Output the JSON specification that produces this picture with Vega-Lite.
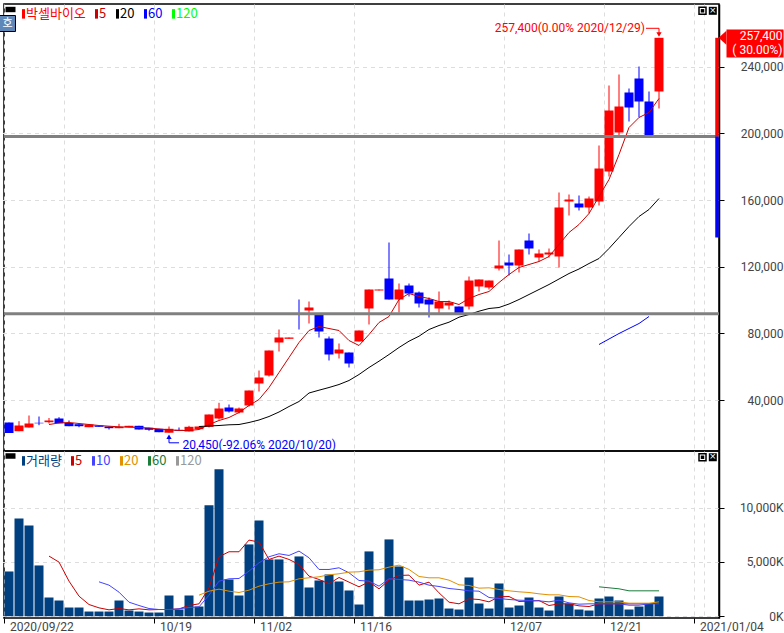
{
"$schema":"https://vega.github.io/schema/vega-lite/v6.json",
"background":"#ffffff",
"padding":{"left":-4,"top":3,"right":0,"bottom":0},
"spacing":0,
"bounds":"flush",
"resolve":{"scale":{"color":"independent"},"legend":{"color":"independent"}},
"config":{"view":{"stroke":"#000000","strokeWidth":1.5},"font":"Roboto"},
"datasets":{
"price":[
{"date":"2020/09/22","open":26580,"high":26580,"low":20280,"close":20280},
{"date":"2020/09/23","open":21360,"high":27360,"low":21360,"close":24780},
{"date":"2020/09/24","open":23580,"high":30780,"low":23580,"close":25980},
{"date":"2020/09/25","open":26400,"high":30180,"low":24960,"close":26100},
{"date":"2020/09/28","open":26760,"high":29280,"low":25980,"close":27780,"5":25380},
{"date":"2020/09/29","open":28980,"high":29760,"low":26160,"close":26160,"5":26280},
{"date":"2020/10/05","open":26280,"high":27780,"low":24360,"close":24360,"5":26580},
{"date":"2020/10/06","open":25560,"high":25560,"low":23760,"close":24360,"5":25980},
{"date":"2020/10/07","open":23760,"high":25380,"low":23760,"close":25380,"5":25380},
{"date":"2020/10/08","open":24780,"high":24780,"low":24000,"close":24000,"5":24780},
{"date":"2020/10/12","open":24180,"high":24180,"low":22380,"close":23160,"5":24360},
{"date":"2020/10/13","open":23160,"high":25800,"low":23160,"close":24000,"5":24000},
{"date":"2020/10/14","open":23760,"high":24600,"low":23760,"close":24600,"5":23760},
{"date":"2020/10/15","open":24600,"high":24600,"low":22380,"close":22380,"5":23580},
{"date":"2020/10/16","open":23400,"high":23400,"low":21600,"close":22200,"5":23280},
{"date":"2020/10/19","open":22800,"high":22800,"low":20760,"close":20760,"5":22680},
{"date":"2020/10/20","open":20450,"high":24180,"low":20450,"close":22800,"5":22200},
{"date":"2020/10/21","open":22200,"high":23580,"low":21600,"close":21600,"5":21780},
{"date":"2020/10/22","open":21180,"high":24600,"low":21180,"close":24000,"5":21780},
{"date":"2020/10/23","open":22560,"high":24180,"low":22560,"close":24180,"5":22380,"20":24180},
{"date":"2020/10/26","open":24000,"high":31380,"low":23580,"close":31380,"5":25380,"20":24480},
{"date":"2020/10/27","open":28980,"high":38400,"low":28380,"close":34980,"5":27780,"20":24780},
{"date":"2020/10/28","open":35580,"high":37380,"low":32580,"close":33180,"5":29580,"20":25200},
{"date":"2020/10/29","open":32580,"high":35580,"low":31980,"close":34980,"5":32580,"20":25380},
{"date":"2020/10/30","open":36780,"high":45780,"low":36180,"close":45780,"5":36780,"20":26580},
{"date":"2020/11/02","open":49980,"high":57780,"low":45180,"close":53580,"5":40380,"20":28080},
{"date":"2020/11/03","open":54780,"high":69780,"low":54180,"close":69780,"5":47580,"20":30180},
{"date":"2020/11/04","open":74580,"high":82380,"low":69180,"close":77580,"5":56580,"20":32880},
{"date":"2020/11/05","open":76800,"high":77580,"low":76800,"close":77580,"5":65580,"20":36180},
{"date":"2020/11/06","open":92000,"high":100380,"low":82380,"close":91380,"5":74580,"20":39180},
{"date":"2020/11/09","open":93780,"high":99180,"low":85980,"close":95580,"5":81780,"20":44280},
{"date":"2020/11/10","open":92000,"high":92000,"low":77580,"close":81180,"5":84180,"20":45960},
{"date":"2020/11/11","open":76980,"high":78180,"low":63780,"close":67380,"5":82980,"20":47580},
{"date":"2020/11/12","open":67980,"high":73980,"low":64980,"close":70380,"5":81780,"20":49380},
{"date":"2020/11/13","open":68580,"high":68580,"low":59580,"close":61980,"5":75780,"20":51780},
{"date":"2020/11/16","open":75180,"high":81780,"low":75180,"close":81780,"5":72780,"20":55380},
{"date":"2020/11/17","open":94980,"high":106380,"low":85380,"close":106380,"5":79380,"20":59580},
{"date":"2020/11/18","open":105780,"high":106380,"low":105780,"close":106380,"5":86580,"20":63360},
{"date":"2020/11/19","open":112980,"high":134580,"low":100380,"close":100380,"5":90180,"20":67380},
{"date":"2020/11/20","open":100380,"high":109980,"low":92580,"close":106380,"5":100380,"20":71580},
{"date":"2020/11/23","open":108780,"high":109980,"low":102180,"close":103980,"5":103980,"20":75360},
{"date":"2020/11/24","open":104580,"high":105180,"low":95580,"close":97980,"5":102180,"20":78360},
{"date":"2020/11/25","open":100380,"high":101580,"low":89580,"close":97380,"5":100980,"20":82380},
{"date":"2020/11/26","open":94980,"high":105180,"low":91980,"close":99180,"5":99180,"20":84780},
{"date":"2020/11/27","open":96780,"high":99780,"low":94380,"close":98580,"5":99180,"20":86760},
{"date":"2020/11/30","open":96180,"high":96180,"low":92000,"close":92280,"5":97380,"20":89760},
{"date":"2020/12/01","open":96180,"high":114180,"low":94380,"close":111780,"5":100980,"20":91380},
{"date":"2020/12/02","open":108180,"high":112380,"low":105180,"close":112380,"5":103380,"20":93360},
{"date":"2020/12/03","open":107580,"high":111780,"low":106380,"close":111780,"5":105180,"20":94980},
{"date":"2020/12/04","open":118980,"high":135780,"low":117780,"close":120780,"5":110580,"20":95580},
{"date":"2020/12/07","open":122580,"high":127380,"low":114780,"close":120780,"5":115380,"20":97680},
{"date":"2020/12/08","open":120780,"high":130380,"low":116580,"close":130380,"5":119580,"20":100380},
{"date":"2020/12/09","open":135780,"high":139980,"low":127380,"close":130980,"5":121380,"20":103380},
{"date":"2020/12/10","open":125580,"high":130380,"low":123180,"close":127980,"5":123180,"20":106380},
{"date":"2020/12/11","open":127380,"high":130980,"low":125580,"close":128580,"5":126180,"20":109380},
{"date":"2020/12/14","open":126180,"high":164580,"low":119580,"close":155580,"5":133380,"20":112680},
{"date":"2020/12/15","open":159180,"high":163380,"low":150780,"close":160380,"5":140580,"20":115980},
{"date":"2020/12/16","open":157980,"high":162780,"low":153780,"close":155580,"5":145380,"20":118680},
{"date":"2020/12/17","open":155580,"high":162180,"low":151980,"close":160980,"5":151980,"20":121980},
{"date":"2020/12/18","open":159180,"high":192780,"low":156780,"close":178980,"5":162180,"20":124980,"60":73380},
{"date":"2020/12/21","open":177180,"high":228780,"low":174180,"close":213780,"5":172380,"20":130980,"60":76680},
{"date":"2020/12/22","open":200580,"high":235380,"low":198180,"close":216180,"5":187380,"20":137580,"60":79980},
{"date":"2020/12/23","open":224580,"high":226980,"low":207180,"close":215580,"5":203580,"20":144180,"60":82980},
{"date":"2020/12/24","open":232980,"high":240180,"low":209580,"close":219180,"5":209580,"20":150180,"60":85980},
{"date":"2020/12/28","open":219180,"high":225180,"low":198000,"close":198180,"5":212580,"20":154380,"60":90180},
{"date":"2020/12/29","open":225180,"high":257400,"low":214980,"close":257400,"5":220980,"20":160980}
],
"vol":[
{"date":"2020/09/22","volume":4120},{"date":"2020/09/23","volume":9010},{"date":"2020/09/24","volume":8364},{"date":"2020/09/25","volume":4674},
{"date":"2020/09/28","volume":1722,"5":5535},{"date":"2020/09/29","volume":1445,"5":4981},{"date":"2020/10/05","volume":800,"5":3229},{"date":"2020/10/06","volume":800,"5":1845},{"date":"2020/10/07","volume":430,"5":1076},
{"date":"2020/10/08","volume":430,"5":769,"10":3167},{"date":"2020/10/12","volume":430,"5":584,"10":2860},{"date":"2020/10/13","volume":1445,"5":707,"10":2214},{"date":"2020/10/14","volume":523,"5":584,"10":1291},{"date":"2020/10/15","volume":430,"5":676,"10":984},
{"date":"2020/10/16","volume":338,"5":584,"10":707},{"date":"2020/10/19","volume":338,"5":615,"10":615},{"date":"2020/10/20","volume":1906,"5":615,"10":615},{"date":"2020/10/21","volume":615,"5":676,"10":676},{"date":"2020/10/22","volume":1906,"5":984,"10":800},
{"date":"2020/10/23","volume":892,"5":1138,"10":861,"20":1937},{"date":"2020/10/26","volume":10209,"5":2614,"10":1937,"20":2306},{"date":"2020/10/27","volume":13530,"5":5474,"10":3229,"20":2491},{"date":"2020/10/28","volume":3382,"5":5935,"10":3444,"20":2306},{"date":"2020/10/29","volume":1906,"5":5935,"10":3475,"20":2183},
{"date":"2020/10/30","volume":6611,"5":7011,"10":4151,"20":2398},{"date":"2020/11/02","volume":8825,"5":6826,"10":4920,"20":2767},{"date":"2020/11/03","volume":5228,"5":5228,"10":5474,"20":2983},{"date":"2020/11/04","volume":5228,"5":5535,"10":5750,"20":3136},{"date":"2020/11/05","volume":0,"5":5228,"10":5596,"20":3167},
{"date":"2020/11/06","volume":5504,"5":4766,"10":5996,"20":3444},{"date":"2020/11/09","volume":2644,"5":3690,"10":5381,"20":3536},{"date":"2020/11/10","volume":3290,"5":3382,"10":4305,"20":3628},{"date":"2020/11/11","volume":3844,"5":2983,"10":4305,"20":3813},{"date":"2020/11/12","volume":3198,"5":3567,"10":4459,"20":3905},
{"date":"2020/11/13","volume":2368,"5":3136,"10":3998,"20":4059},{"date":"2020/11/16","volume":1076,"5":2706,"10":3290,"20":4090},{"date":"2020/11/17","volume":5966,"5":3167,"10":3229,"20":4243},{"date":"2020/11/18","volume":0,"5":2521,"10":2768,"20":4274},{"date":"2020/11/19","volume":7072,"5":3321,"10":3444,"20":4520},
{"date":"2020/11/20","volume":4582,"5":3751,"10":3382,"20":4705},{"date":"2020/11/23","volume":1445,"5":3782,"10":3321,"20":4305},{"date":"2020/11/24","volume":1445,"5":2860,"10":3136,"20":3659},{"date":"2020/11/25","volume":1537,"5":3136,"10":2860,"20":3536},{"date":"2020/11/26","volume":1630,"5":2152,"10":2737,"20":3536},
{"date":"2020/11/27","volume":707,"5":1291,"10":2552,"20":3321},{"date":"2020/11/30","volume":615,"5":1138,"10":2460,"20":2890},{"date":"2020/12/01","volume":3567,"5":1599,"10":2337,"20":2829},{"date":"2020/12/02","volume":1168,"5":1537,"10":2306,"20":2583},{"date":"2020/12/03","volume":707,"5":1322,"10":1722,"20":2614},
{"date":"2020/12/04","volume":3013,"5":1783,"10":1630,"20":2460},{"date":"2020/12/07","volume":800,"5":1814,"10":1537,"20":2337},{"date":"2020/12/08","volume":984,"5":1353,"10":1476,"20":2245},{"date":"2020/12/09","volume":1722,"5":1384,"10":1445,"20":2183},{"date":"2020/12/10","volume":800,"5":1445,"10":1414,"20":2060},
{"date":"2020/12/11","volume":523,"5":984,"10":1322,"20":1968},{"date":"2020/12/14","volume":1814,"5":1138,"10":1476,"20":1968},{"date":"2020/12/15","volume":1168,"5":1138,"10":1230,"20":1814},{"date":"2020/12/16","volume":615,"5":953,"10":1107,"20":1783},{"date":"2020/12/17","volume":523,"5":892,"10":1138,"20":1445},
{"date":"2020/12/18","volume":1630,"5":1138,"10":1138,"20":1322,"60":2706},{"date":"2020/12/21","volume":1814,"5":1138,"10":1138,"20":1322,"60":2614},{"date":"2020/12/22","volume":1445,"5":1138,"10":1138,"20":1322,"60":2521},{"date":"2020/12/23","volume":615,"5":1138,"10":1015,"20":1199,"60":2337},{"date":"2020/12/24","volume":892,"5":1138,"10":1015,"20":1199,"60":2337},
{"date":"2020/12/28","volume":1168,"5":1168,"10":1138,"20":1199,"60":2337},{"date":"2020/12/29","volume":1814,"5":1168,"10":1138,"20":1322,"60":2337}
]
},
"vconcat":[
{
"width":715,"height":447,
"encoding":{"x":{"field":"date","type":"ordinal","title":null,
"scale":{"type":"band","range":[0.5,719.5],"paddingInner":0.1,"paddingOuter":0,"domain":["2020/09/22","2020/09/23","2020/09/24","2020/09/25","2020/09/28","2020/09/29","2020/10/05","2020/10/06","2020/10/07","2020/10/08","2020/10/12","2020/10/13","2020/10/14","2020/10/15","2020/10/16","2020/10/19","2020/10/20","2020/10/21","2020/10/22","2020/10/23","2020/10/26","2020/10/27","2020/10/28","2020/10/29","2020/10/30","2020/11/02","2020/11/03","2020/11/04","2020/11/05","2020/11/06","2020/11/09","2020/11/10","2020/11/11","2020/11/12","2020/11/13","2020/11/16","2020/11/17","2020/11/18","2020/11/19","2020/11/20","2020/11/23","2020/11/24","2020/11/25","2020/11/26","2020/11/27","2020/11/30","2020/12/01","2020/12/02","2020/12/03","2020/12/04","2020/12/07","2020/12/08","2020/12/09","2020/12/10","2020/12/11","2020/12/14","2020/12/15","2020/12/16","2020/12/17","2020/12/18","2020/12/21","2020/12/22","2020/12/23","2020/12/24","2020/12/28","2020/12/29","2020/12/30","2020/12/31","2021/01/01","2021/01/04","2021/01/05","2021/01/06"]},
"axis":{"values":["2020/09/22","2020/10/05","2020/10/19","2020/11/02","2020/11/16","2020/12/07","2020/12/21","2021/01/04","2021/01/05"],"bandPosition":0,"labels":false,"ticks":false,"domain":false,"grid":true,"gridColor":"#dddddd","gridDash":[4,4],"gridWidth":1,"tickSize":0,"labelPadding":0,"minExtent":0,"maxExtent":0}}},
"layer":[
{"data":{"name":"price"},"mark":{"type":"rule","strokeWidth":1},"encoding":{
 "y":{"field":"low","type":"quantitative","title":null,"scale":{"domain":[9480,277680],"nice":false,"zero":false},
  "axis":{"orient":"right","values":[40000,80000,120000,160000,200000,240000],"labelExpr":"format(datum.value,',')","tickSize":5,"tickColor":"#000","domainColor":"#000","domainWidth":1.5,"labelColor":"#444444","labelFont":"Roboto","labelFontSize":12,"labelAlign":"right","labelPadding":59,"grid":true,"gridColor":"#dddddd","gridDash":[4,4]}},
 "y2":{"field":"high"},
 "color":{"condition":{"test":"datum.close>=datum.open","value":"#ff0000"},"value":"#0000ff"}}},
{"data":{"name":"price"},"mark":{"type":"bar"},"encoding":{
 "y":{"field":"open","type":"quantitative"},"y2":{"field":"close"},
 "color":{"condition":{"test":"datum.close>=datum.open","value":"#ff0000"},"value":"#0000ff"}}},
{"data":{"name":"price"},"transform":[{"fold":["5","20","60","120"],"as":["series","ma"]},{"filter":"isValid(datum.ma)"}],
 "mark":{"type":"line","strokeWidth":1,"interpolate":"linear"},
 "encoding":{"y":{"field":"ma","type":"quantitative"},
 "color":{"field":"series","type":"nominal","scale":{"domain":["박셀바이오","5","20","60","120"],"range":["#ff0000","#cc0000","#000000","#0000ff","#00ff00"]},
  "legend":{"title":null,"orient":"none","legendX":13,"legendY":3,"direction":"horizontal","symbolType":"M0,-1L0,1","symbolSize":90,"symbolStrokeWidth":3,"labelFont":"Noto Sans CJK KR","labelFontSize":13,"labelOffset":-4,"columnPadding":4,"padding":0,"labelColor":{"expr":"datum.label=='박셀바이오'?'#ff0000':datum.label=='5'?'#cc0000':datum.label=='20'?'#000000':datum.label=='60'?'#0000ff':'#00ff00'"}}}}},
{"data":{"values":[{"level":198180},{"level":91800}]},"mark":{"type":"rule","color":"#808080","strokeWidth":3},"encoding":{"x":{"value":0},"x2":{"value":715},"y":{"field":"level","type":"quantitative"}}},
{"data":{"values":[{"date":"2021/01/06","from":257400,"to":198180,"kind":"up"},{"date":"2021/01/06","from":198180,"to":137580,"kind":"down"}]},"mark":{"type":"bar","width":3.5,"xOffset":-2},"encoding":{"y":{"field":"from","type":"quantitative"},"y2":{"field":"to"},"color":{"condition":{"test":"datum.kind=='up'","value":"#ff0000"},"value":"#0000ff"}}},
{"data":{"values":[{"date":"2021/01/06","from":262380,"to":245580}]},"mark":{"type":"bar","width":57,"xOffset":36,"color":"#ff0000"},"encoding":{"y":{"field":"from","type":"quantitative"},"y2":{"field":"to"}}},
{"data":{"values":[{"date":"2021/01/06","p":257400}]},"mark":{"type":"point","shape":"M-0.55,0L0.55,-1L0.55,1Z","filled":true,"opacity":1,"color":"#ff0000","size":196,"xOffset":3.5},"encoding":{"y":{"field":"p","type":"quantitative"}}},
{"data":{"values":[{"date":"2021/01/06","p":258480,"t":"257,400"},{"date":"2021/01/06","p":250080,"t":"( 30.00%)"}]},"mark":{"type":"text","align":"right","xOffset":63.5,"color":"#ffffff","fontSize":12,"font":"Roboto"},"encoding":{"y":{"field":"p","type":"quantitative"},"text":{"field":"t"}}},
{"data":{"values":[{"date":"2020/12/29","p":263580,"t":"257,400(0.00% 2020/12/29)"}]},"mark":{"type":"text","align":"right","xOffset":-14,"color":"#ff0000","fontSize":12,"font":"Roboto"},"encoding":{"y":{"field":"p","type":"quantitative"},"text":{"field":"t"}}},
{"data":{"values":[{"date":"2020/10/21","p":13380,"t":"20,450(-92.06% 2020/10/20)"}]},"mark":{"type":"text","align":"left","xOffset":3.5,"color":"#0000ff","fontSize":12,"font":"Roboto"},"encoding":{"y":{"field":"p","type":"quantitative"},"text":{"field":"t"}}},
{"data":{"values":[{"date":"2020/12/28","to":"2020/12/29","p":263100}]},"mark":{"type":"rule","color":"#ff0000","strokeWidth":1,"xOffset":-3},"encoding":{"x2":{"field":"to"},"y":{"field":"p","type":"quantitative"}}},
{"data":{"values":[{"date":"2020/12/29","p":263100,"q":259000}]},"mark":{"type":"rule","color":"#ff0000","strokeWidth":1},"encoding":{"y":{"field":"p","type":"quantitative"},"y2":{"field":"q"}}},
{"data":{"values":[{"date":"2020/12/29","p":259380}]},"mark":{"type":"point","shape":"triangle-down","filled":true,"opacity":1,"color":"#ff0000","size":28},"encoding":{"y":{"field":"p","type":"quantitative"}}},
{"data":{"values":[{"date":"2020/10/20","to":"2020/10/21","p":14400}]},"mark":{"type":"rule","color":"#0000ff","strokeWidth":1},"encoding":{"x2":{"field":"to"},"y":{"field":"p","type":"quantitative"}}},
{"data":{"values":[{"date":"2020/10/20","p":14400,"q":18000}]},"mark":{"type":"rule","color":"#0000ff","strokeWidth":1},"encoding":{"y":{"field":"p","type":"quantitative"},"y2":{"field":"q"}}},
{"data":{"values":[{"date":"2020/10/20","p":17980}]},"mark":{"type":"point","shape":"triangle-up","filled":true,"opacity":1,"color":"#0000ff","size":28},"encoding":{"y":{"field":"p","type":"quantitative"}}},
{"data":{"values":[{"date":"2020/09/22","from":276000,"to":272760}]},"mark":{"type":"bar","width":10,"xOffset":1.5,"color":"#000000"},"encoding":{"y":{"field":"from","type":"quantitative"},"y2":{"field":"to"}}},
{"data":{"values":[{"date":"2020/09/22","p":265980}]},"mark":{"type":"square","size":256,"color":"#5f88b8","stroke":"#000000","strokeWidth":1,"opacity":1,"xOffset":-1.5},"encoding":{"y":{"field":"p","type":"quantitative"}}},
{"data":{"values":[{"date":"2020/09/22","p":265980,"t":"호"}]},"mark":{"type":"text","color":"#ffffff","font":"Noto Sans CJK KR","fontSize":11,"xOffset":-1.5},"encoding":{"y":{"field":"p","type":"quantitative"},"text":{"field":"t"}}},
{"data":{"values":[{"date":"2021/01/04","p":273600}]},"mark":{"type":"square","size":49,"color":"#ffffff","stroke":"#000000","strokeWidth":1.5,"opacity":1,"xOffset":3.5},"encoding":{"y":{"field":"p","type":"quantitative"}}},
{"data":{"values":[{"date":"2021/01/04","p":273600}]},"mark":{"type":"square","size":12,"color":"#000000","opacity":1,"xOffset":3.5},"encoding":{"y":{"field":"p","type":"quantitative"}}},
{"data":{"values":[{"date":"2021/01/05","p":273600}]},"mark":{"type":"square","size":64,"color":"#000000","opacity":1,"xOffset":3.8},"encoding":{"y":{"field":"p","type":"quantitative"}}},
{"data":{"values":[{"date":"2021/01/05","p":273600,"t":"×"}]},"mark":{"type":"text","color":"#ffffff","fontSize":11,"font":"Liberation Sans","xOffset":3.8},"encoding":{"y":{"field":"p","type":"quantitative"},"text":{"field":"t"}}}
]
},
{
"width":715,"height":167,
"encoding":{"x":{"field":"date","type":"ordinal","title":null,
"scale":{"type":"band","range":[0.5,719.5],"paddingInner":0.1,"paddingOuter":0,"domain":["2020/09/22","2020/09/23","2020/09/24","2020/09/25","2020/09/28","2020/09/29","2020/10/05","2020/10/06","2020/10/07","2020/10/08","2020/10/12","2020/10/13","2020/10/14","2020/10/15","2020/10/16","2020/10/19","2020/10/20","2020/10/21","2020/10/22","2020/10/23","2020/10/26","2020/10/27","2020/10/28","2020/10/29","2020/10/30","2020/11/02","2020/11/03","2020/11/04","2020/11/05","2020/11/06","2020/11/09","2020/11/10","2020/11/11","2020/11/12","2020/11/13","2020/11/16","2020/11/17","2020/11/18","2020/11/19","2020/11/20","2020/11/23","2020/11/24","2020/11/25","2020/11/26","2020/11/27","2020/11/30","2020/12/01","2020/12/02","2020/12/03","2020/12/04","2020/12/07","2020/12/08","2020/12/09","2020/12/10","2020/12/11","2020/12/14","2020/12/15","2020/12/16","2020/12/17","2020/12/18","2020/12/21","2020/12/22","2020/12/23","2020/12/24","2020/12/28","2020/12/29","2020/12/30","2020/12/31","2021/01/01","2021/01/04","2021/01/05","2021/01/06"]},
"axis":{"values":["2020/09/22","2020/10/05","2020/10/19","2020/11/02","2020/11/16","2020/12/07","2020/12/21","2021/01/04","2021/01/05"],"bandPosition":0,"domain":false,"grid":true,"gridColor":"#dddddd","gridDash":[4,4],"gridWidth":1,"tickSize":5,"tickColor":"#000000","tickOpacity":{"condition":{"test":"datum.value=='2020/10/05'||datum.value=='2021/01/05'","value":0},"value":1},"labelAngle":0,"labelAlign":"left","labelBaseline":"top","labelPadding":-2,"labelOffset":1,"labelOverlap":false,"labelFlush":false,"labelColor":"#444444","labelFont":"Roboto","labelFontSize":12,"labelExpr":"datum.value=='2020/10/05'||datum.value=='2021/01/05'?'':(datum.value=='2020/09/22'||datum.value=='2021/01/04'?datum.value:slice(datum.value,5))"}}},
"layer":[
{"data":{"name":"vol"},"mark":{"type":"bar","color":"#004080"},"encoding":{
 "y":{"field":"volume","type":"quantitative","title":null,"scale":{"domain":[-166,15216],"nice":false,"zero":false},
  "axis":{"orient":"right","values":[0,5000,10000],"labelExpr":"format(datum.value,',')+'K'","tickSize":5,"tickColor":"#000","domainColor":"#000","domainWidth":1.5,"labelColor":"#444444","labelFont":"Roboto","labelFontSize":12,"labelAlign":"right","labelPadding":59,"grid":true,"gridColor":"#dddddd","gridDash":[4,4]}},
 "y2":{"datum":0}}},
{"data":{"name":"vol"},"transform":[{"fold":["5","10","20","60","120"],"as":["series","ma"]},{"filter":"isValid(datum.ma)"}],
 "mark":{"type":"line","strokeWidth":1},
 "encoding":{"y":{"field":"ma","type":"quantitative"},
 "color":{"field":"series","type":"nominal","scale":{"domain":["거래량","5","10","20","60","120"],"range":["#004080","#cc0000","#4444ff","#e09000","#1a7d3c","#999999"]},
  "legend":{"title":null,"orient":"none","legendX":13,"legendY":3,"direction":"horizontal","symbolType":"M0,-1L0,1","symbolSize":90,"symbolStrokeWidth":3,"labelFont":"Noto Sans CJK KR","labelFontSize":13,"labelOffset":-4,"columnPadding":4,"padding":0,"labelColor":{"expr":"datum.label=='거래량'?'#004080':datum.label=='5'?'#cc0000':datum.label=='10'?'#4444ff':datum.label=='20'?'#e09000':datum.label=='60'?'#1a7d3c':'#999999'"}}}}},
{"data":{"values":[{"date":"2020/09/22","from":15009,"to":14502}]},"mark":{"type":"bar","width":10,"xOffset":1.5,"color":"#000000"},"encoding":{"y":{"field":"from","type":"quantitative"},"y2":{"field":"to"}}},
{"data":{"values":[{"date":"2021/01/04","p":14640}]},"mark":{"type":"square","size":49,"color":"#ffffff","stroke":"#000000","strokeWidth":1.5,"opacity":1,"xOffset":3.5},"encoding":{"y":{"field":"p","type":"quantitative"}}},
{"data":{"values":[{"date":"2021/01/04","p":14640}]},"mark":{"type":"square","size":12,"color":"#000000","opacity":1,"xOffset":3.5},"encoding":{"y":{"field":"p","type":"quantitative"}}},
{"data":{"values":[{"date":"2021/01/05","p":14640}]},"mark":{"type":"square","size":64,"color":"#000000","opacity":1,"xOffset":3.8},"encoding":{"y":{"field":"p","type":"quantitative"}}},
{"data":{"values":[{"date":"2021/01/05","p":14640,"t":"×"}]},"mark":{"type":"text","color":"#ffffff","fontSize":11,"font":"Liberation Sans","xOffset":3.8},"encoding":{"y":{"field":"p","type":"quantitative"},"text":{"field":"t"}}}
]
}
]
}
